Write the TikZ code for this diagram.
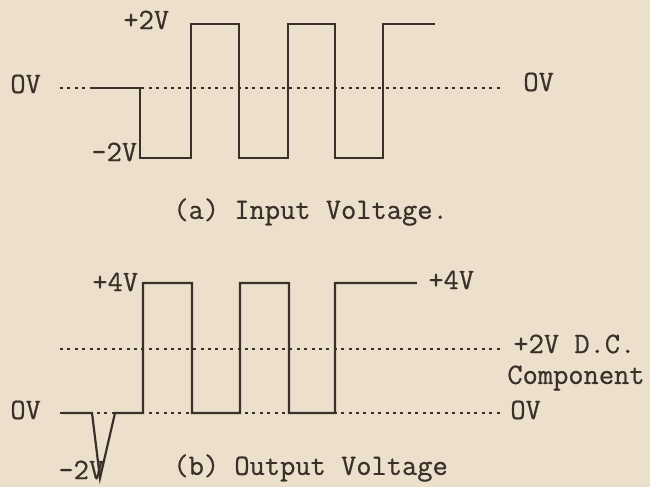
\documentclass[tikz,border=0pt]{standalone}
\usepackage{fontspec}
\setmonofont[FakeBold=0.6]{Latin Modern Mono}
\begin{document}
\begin{tikzpicture}[x=0.5pt, y=-0.5pt]

\definecolor{paper}{RGB}{236,224,204}
\definecolor{ink}{RGB}{58,48,42}

\tikzstyle{lbl}=[inner sep=0pt, anchor=west, text=ink, font=\ttfamily\fontsize{14.8}{17}\selectfont]
\tikzstyle{wave}=[draw=ink, line width=1.1pt]
\tikzstyle{ref}=[draw=ink, line width=1pt, dash pattern=on 1.5pt off 2.2pt]

\useasboundingbox[fill=paper] (0,0) rectangle (650,487);

% (a) input
\draw[ref] (60,88) -- (502,88);
\draw[wave] (90,88) -- (140,88) -- (140,158) -- (191,158) -- (191,24) -- (239,24)
  -- (239,158) -- (288,158) -- (288,24) -- (335,24) -- (335,158) -- (383,158)
  -- (383,24) -- (435,24);

\node[lbl] (a0l) at (10,84) {OV};
\node[lbl] (a0r) at (523,82) {OV};
\node[lbl] (ahi) at (123,20) {+2V};
\node[lbl] (alo) at (91,152) {-2V};
\node[lbl] (acap) at (173,212) {(a) Input Voltage.};

% (b) output
\draw[ref] (60,349) -- (500,349);
\draw[ref] (60,413) -- (503,413);
\draw[wave] (63,413) -- (92,413) -- (100,478) -- (115,413) -- (143,413) -- (143,283)
  -- (192,283) -- (192,413) -- (240,413) -- (240,283) -- (289,283) -- (289,413)
  -- (335,413) -- (335,283) -- (417,283);

\node[lbl] (b0l) at (10,410) {OV};
\node[lbl] (b0r) at (510,410) {OV};
\node[lbl] (bhil) at (92,282) {+4V};
\node[lbl] (bhir) at (428,280) {+4V};
\node[lbl] (bdc) at (513,344) {+2V D.C.};
\node[lbl] (bcomp) at (507,378) {Component};
\node[lbl] (blo) at (58,470) {-2V};
\node[lbl] (bcap) at (173,468) {(b) Output Voltage};

\end{tikzpicture}
\end{document}
